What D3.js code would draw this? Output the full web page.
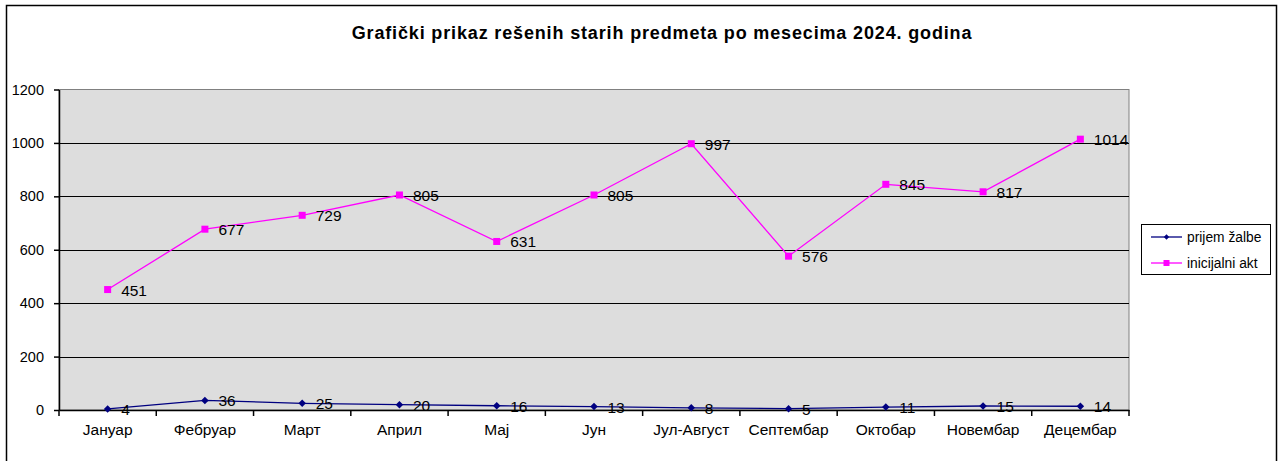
<!DOCTYPE html>
<html><head><meta charset="utf-8">
<script src="https://cdn.jsdelivr.net/npm/d3@7"></script>
<style>body{margin:0;background:#fff}svg{display:block;font-family:"Liberation Sans",Arial,sans-serif}</style>
</head><body><svg id="c" width="1279" height="461"></svg>
<script>
const months = ["Јануар","Фебруар","Март","Април","Мај","Јун","Јул-Август","Септембар","Октобар","Новембар","Децембар"];
const prijemZalbe = [4,36,25,20,16,13,8,5,11,15,14];
const inicijalniAkt = [451,677,729,805,631,805,997,576,845,817,1014];
const yTicks = [0,200,400,600,800,1000,1200];
const seriesNames = ["prijem žalbe","inicijalni akt"];
const titleText = "Grafički prikaz rešenih starih predmeta po mesecima 2024. godina";

const svg = d3.select("#c");
const L=59,R=1129,T=89.5,B=410;
svg.append("rect").attr("x",6.5).attr("y",5.5).attr("width",1270).attr("height",470)
  .attr("fill","#fff").attr("stroke","#000").attr("stroke-width",1.5);
svg.append("text").attr("x",662).attr("y",39).attr("text-anchor","middle")
  .attr("font-size",18).attr("letter-spacing",0.85).attr("font-weight","bold").text(titleText);

const x = d3.scaleBand().domain(months).range([L,R]).padding(0);
const y = d3.scaleLinear().domain([0,1200]).range([B,T]);

svg.append("rect").attr("x",L).attr("y",T).attr("width",R-L).attr("height",B-T)
  .attr("fill","#DDDDDD").attr("stroke","#808080").attr("stroke-width",1);
svg.append("g").selectAll("line").data(yTicks.filter(d=>d>0&&d<1200)).join("line")
  .attr("x1",L).attr("x2",R).attr("y1",d=>Math.round(y(d))+0.5).attr("y2",d=>Math.round(y(d))+0.5)
  .attr("stroke","#000").attr("stroke-width",1.2);

const yAxis = svg.append("g").attr("transform",`translate(${L},0)`)
  .call(d3.axisLeft(y).tickValues(yTicks).tickFormat(d3.format("d")).tickSize(5).tickPadding(10).tickSizeOuter(0));
yAxis.select(".domain").attr("stroke","#000").attr("stroke-width",1.5);
yAxis.selectAll(".tick line").attr("stroke","#000").attr("stroke-width",1.5);
yAxis.selectAll("text").attr("font-size",14.5).attr("font-family","Liberation Sans, Arial").attr("fill","#000");

const xAxis = svg.append("g").attr("transform",`translate(0,${B})`)
  .call(d3.axisBottom(x).tickSize(0).tickPadding(14).tickSizeOuter(0));
xAxis.select(".domain").attr("stroke","#000").attr("stroke-width",1.5);
xAxis.selectAll("text").attr("font-size",15.5).attr("font-family","Liberation Sans, Arial").attr("fill","#000");
svg.append("g").selectAll("line").data(months.concat(["__end"])).join("line")
  .attr("x1",(d,i)=>L+i*x.step()).attr("x2",(d,i)=>L+i*x.step())
  .attr("y1",B).attr("y2",B+6).attr("stroke","#000").attr("stroke-width",1.5);

const cx = d => x(d)+x.bandwidth()/2;
const line = d3.line().x((d,i)=>cx(months[i])).y(d=>y(d));

svg.append("path").datum(inicijalniAkt).attr("d",line).attr("fill","none").attr("stroke","#FF00FF").attr("stroke-width",1.3);
svg.append("g").selectAll("rect").data(inicijalniAkt).join("rect")
  .attr("x",(d,i)=>cx(months[i])-3.5).attr("y",d=>y(d)-3.5).attr("width",7).attr("height",7).attr("fill","#FF00FF");
svg.append("path").datum(prijemZalbe).attr("d",line).attr("fill","none").attr("stroke","#000080").attr("stroke-width",1.3);
const diamond = d3.symbol().type(d3.symbolDiamond2).size(36);
svg.append("g").selectAll("path").data(prijemZalbe).join("path")
  .attr("transform",(d,i)=>`translate(${cx(months[i])},${y(d)})`).attr("d",diamond).attr("fill","#000080");

function labels(arr){
  svg.append("g").selectAll("text").data(arr).join("text")
    .attr("x",(d,i)=>cx(months[i])+13.5).attr("y",d=>y(d)+6)
    .attr("font-size",15.5).attr("fill","#000").text(d=>d);
}
labels(inicijalniAkt);
labels(prijemZalbe);

const lg = svg.append("g");
lg.append("rect").attr("x",1141.5).attr("y",224.5).attr("width",129).attr("height",50)
  .attr("fill","#fff").attr("stroke","#000").attr("stroke-width",1);
const items=[{n:seriesNames[0],c:"#000080",s:"d"},{n:seriesNames[1],c:"#FF00FF",s:"s"}];
items.forEach((it,i)=>{
  const yy = 237+i*26;
  lg.append("line").attr("x1",1151).attr("x2",1182).attr("y1",yy).attr("y2",yy).attr("stroke",it.c).attr("stroke-width",1.3);
  if(it.s==="d") lg.append("path").attr("transform",`translate(1166.5,${yy})`).attr("d",d3.symbol().type(d3.symbolDiamond2).size(18)).attr("fill",it.c);
  else lg.append("rect").attr("x",1163.5).attr("y",yy-3).attr("width",6).attr("height",6).attr("fill",it.c);
  lg.append("text").attr("x",1187).attr("y",yy+5).attr("font-size",13.8).attr("fill","#000").text(it.n);
});
</script></body></html>
